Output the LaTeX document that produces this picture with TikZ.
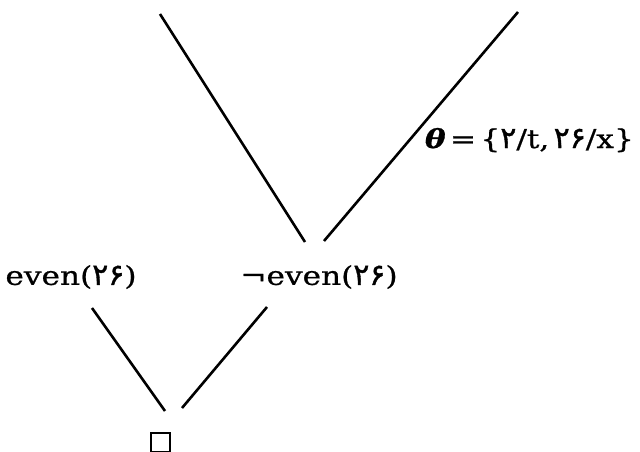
\documentclass[tikz,border=0pt]{standalone}
\usepackage{fontspec}
\setmainfont{DejaVu Serif}[FakeStretch=1.2,FakeBold=0.8]
\newfontfamily\fa{DejaVu Sans}[FakeBold=1.2,Scale=1.15]
\usetikzlibrary{calc}
\begin{document}
\begin{tikzpicture}[x=1pt,y=-1pt,
  lab/.style={inner sep=0pt, font=\fontsize{26}{30}\selectfont},
  edge/.style={line width=2.6pt}]
\useasboundingbox (0,0) rectangle (640,452);
\node[lab] (pos) at (71,277) {even({\fa ۲۶})};
\node[lab] (neg) at (319,277) {¬even({\fa ۲۶})};
\node[lab, anchor=base east] (theta) at (634,148) {{\bfseries\itshape θ}\,=\,\{{\fa ۲}/t,\,{\fa ۲۶}/x\}};
\node[draw, line width=2pt, minimum size=19pt, inner sep=0pt] (box) at (160,442) {};
\coordinate (topL) at (160,14);
\coordinate (topR) at (518,12);
\draw[edge] (topL) -- ($(neg.center)+(-14,-35)$);
\draw[edge] (topR) -- ($(neg.center)+(5,-36)$);
\draw[edge] ($(pos.center)+(21,31)$) -- ($(box.center)+(5,-31)$);
\draw[edge] ($(neg.center)+(-52,30)$) -- ($(box.center)+(22,-34)$);
\end{tikzpicture}
\end{document}
